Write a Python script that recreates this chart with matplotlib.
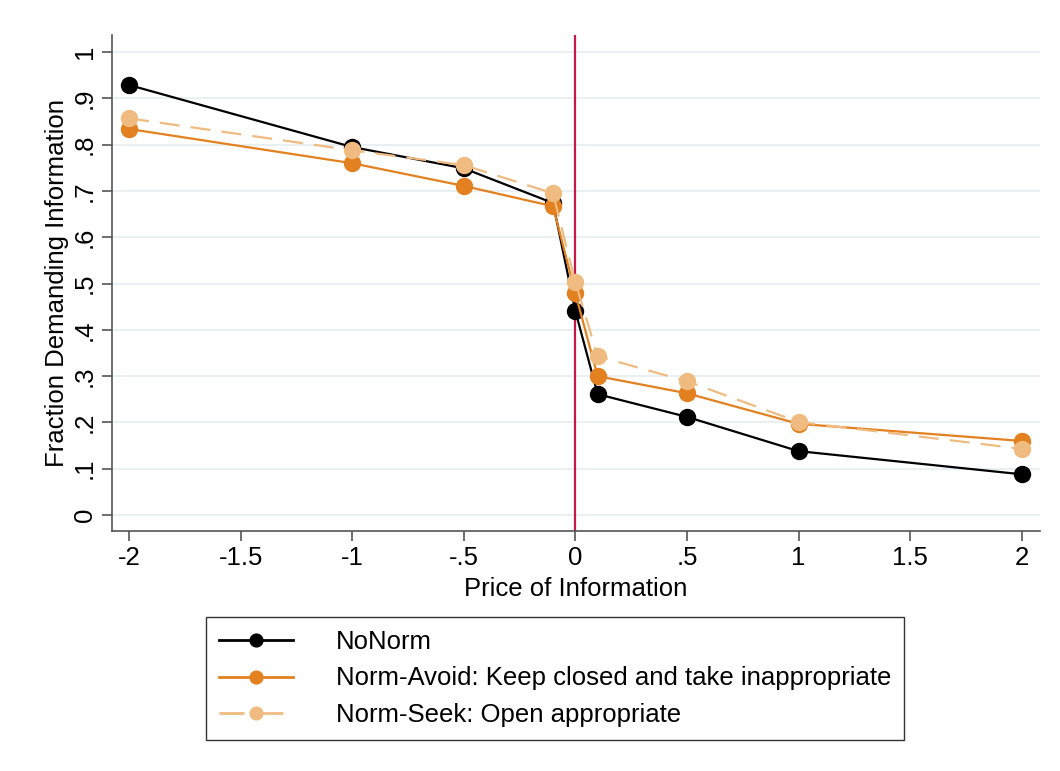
import matplotlib
matplotlib.use("Agg")
import matplotlib.pyplot as plt

plt.rcParams["font.family"] = ["Liberation Sans", "DejaVu Sans"]

# data
price = [-2, -1, -0.5, -0.1, 0, 0.1, 0.5, 1, 2]
no_norm = [0.929, 0.795, 0.749, 0.674, 0.441, 0.261, 0.212, 0.138, 0.088]
norm_avoid = [0.834, 0.760, 0.711, 0.667, 0.479, 0.300, 0.263, 0.197, 0.160]
norm_seek = [0.857, 0.788, 0.756, 0.695, 0.503, 0.343, 0.289, 0.201, 0.143]

xticks = [-2, -1.5, -1, -0.5, 0, 0.5, 1, 1.5, 2]
xtick_labels = ["-2", "-1.5", "-1", "-.5", "0", ".5", "1", "1.5", "2"]
yticks = [0, 0.1, 0.2, 0.3, 0.4, 0.5, 0.6, 0.7, 0.8, 0.9, 1]
ytick_labels = ["0", ".1", ".2", ".3", ".4", ".5", ".6", ".7", ".8", ".9", "1"]

BLACK = "#000000"
ORANGE = "#E3801F"
PEACH = "#EFBB80"
RED = "#C8184A"
GRID = "#E6EFF1"
AXIS = "#555555"
FS = 18.5

fig = plt.figure(figsize=(10.6, 7.71), dpi=100, facecolor="white")
ax = fig.add_axes([0.1057, 0.311, 0.875, 0.6436])

ax.axvline(0, color=RED, lw=1.6, zorder=1)
ax.plot(price, no_norm, color=BLACK, lw=1.6, marker="o", ms=11.5,
        label="NoNorm", zorder=3)
ax.plot(price, norm_avoid, color=ORANGE, lw=1.6, marker="o", ms=11.5,
        label="Norm-Avoid: Keep closed and take inappropriate", zorder=4)
ax.plot(price, norm_seek, color=PEACH, lw=1.6, ls=(0, (9, 5)), marker="o",
        ms=11.5, label="Norm-Seek: Open appropriate", zorder=5)

ax.set_xlim(-2.076, 2.08)
ax.set_ylim(-0.035, 1.037)
ax.set_xticks(xticks)
ax.set_xticklabels(xtick_labels)
ax.set_yticks(yticks)
ax.set_yticklabels(ytick_labels, rotation=90, va="center")
ax.tick_params(labelsize=FS, length=7, width=1.2, color=AXIS, pad=4)
ax.yaxis.grid(True, color=GRID, lw=1.3)
ax.set_axisbelow(True)
for s in ("top", "right"):
    ax.spines[s].set_visible(False)
for s in ("left", "bottom"):
    ax.spines[s].set_color(AXIS)
    ax.spines[s].set_linewidth(1.2)

ax.set_xlabel("Price of Information", fontsize=FS, labelpad=5)
ax.set_ylabel("Fraction Demanding Information", fontsize=FS, labelpad=3)

leg = fig.legend(loc="upper center", bbox_to_anchor=(0.5236, 0.2),
                 fontsize=FS, handlelength=2.9, handletextpad=1.65,
                 labelspacing=0.5, borderpad=0.5, borderaxespad=0,
                 fancybox=False, edgecolor="#333333",
                 framealpha=1, markerscale=0.8)
leg.get_frame().set_linewidth(1.0)
for line in leg.get_lines():
    line.set_linewidth(2.0)

fig.savefig("out.png", dpi=100, facecolor="white")
